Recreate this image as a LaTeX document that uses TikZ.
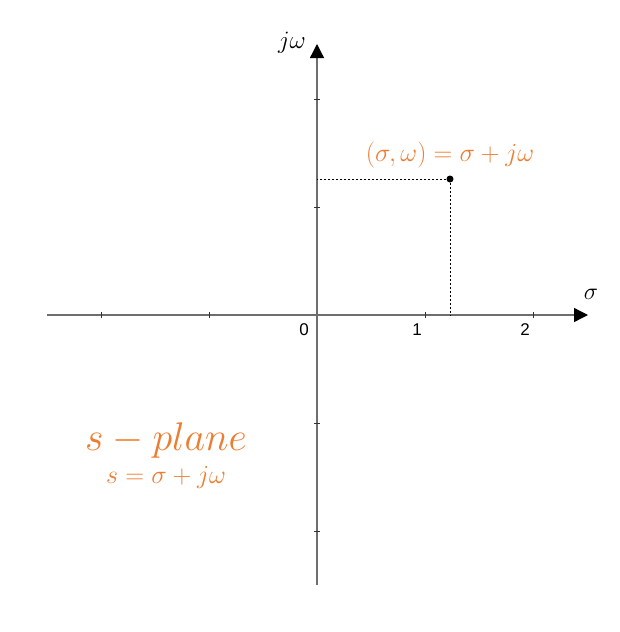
\documentclass[tikz,border=0pt]{standalone}
\usepackage{fix-cm}
\usepackage{fontspec}
\setsansfont{Liberation Sans}
\usetikzlibrary{arrows.meta,positioning}
\definecolor{axisgray}{RGB}{110,110,110}
\definecolor{planeoran}{RGB}{237,125,49}

\begin{document}
\begin{tikzpicture}[x=1pt,y=-1pt,every node/.style={inner sep=0pt}]
      \useasboundingbox (0,0) rectangle (619,632);
      \coordinate (o) at (317,315);
      \coordinate (xmin) at (47,315);
      \coordinate (xmax) at (588,315);
      \coordinate (ymin) at (317,585);
      \coordinate (ymax) at (317,44);
      \draw[axisgray,line width=1.3pt,-{Triangle[length=14pt,width=14pt,black]}] (xmin) -- (xmax);
      \draw[axisgray,line width=1.3pt,-{Triangle[length=14pt,width=14pt,black]}] (ymin) -- (ymax);
      \foreach \i in {-2,-1,1,2} {
        \draw[black!80,line width=1pt] (317+108*\i,312) -- (317+108*\i,318);
        \draw[black!80,line width=1pt] (314,315-108*\i) -- (320,315-108*\i);
      }
      \node[font=\sffamily\fontsize{17}{19}\selectfont] (n0) at (304,330) {0};
      \node[font=\sffamily\fontsize{17}{19}\selectfont] (n1) at (417,330) {1};
      \node[font=\sffamily\fontsize{17}{19}\selectfont] (n2) at (525,330) {2};
      \node[font=\fontsize{24}{28}\selectfont] (sig) at (591,294) {$\sigma$};
      \node[font=\fontsize{25}{28}\selectfont] (jw) at (292,43) {$j\omega$};
      \node[circle,fill=black,minimum size=7pt] (pt) at (450,179) {};
      \draw[dashed,dash pattern=on 2.5pt off 1.5pt,line width=0.6pt] (pt) -- (pt -| o);
      \draw[dashed,dash pattern=on 2.5pt off 1.5pt,line width=0.6pt] (pt) -- (pt |- o);
      \node[planeoran,font=\fontsize{26}{30}\selectfont,above=7pt of pt] (eq) {$(\sigma,\omega)=\sigma+j\omega$};
      \node[planeoran,font=\fontsize{40}{44}\selectfont] (sp) at (166,440) {$s-plane$};
      \node[planeoran,font=\fontsize{26}{30}\selectfont,below=8pt of sp] (sdef) {$s=\sigma+j\omega$};
    \end{tikzpicture}
\end{document}
